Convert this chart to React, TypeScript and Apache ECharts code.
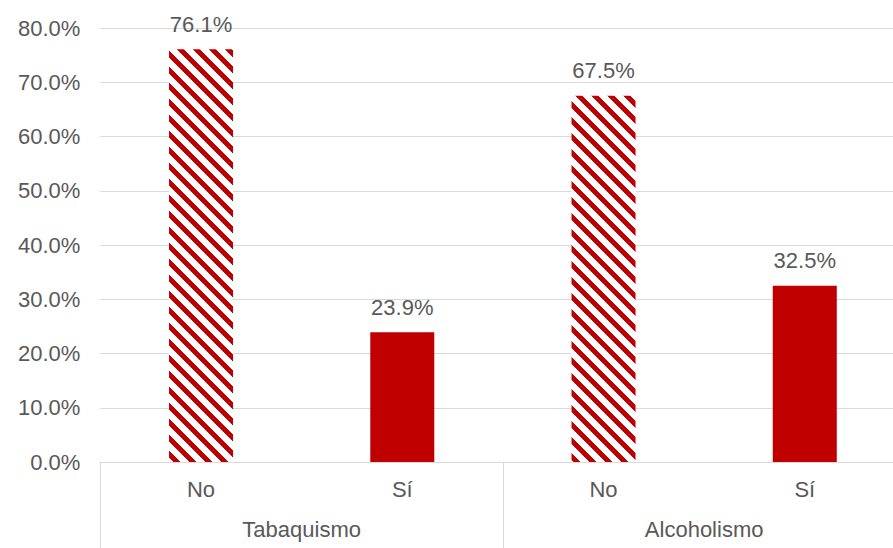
import React, { useEffect, useRef } from "react";
import * as echarts from "echarts";

const categories = ["No", "Sí", "No", "Sí"];
const groups = ["Tabaquismo", "Alcoholismo"];
const values = [76.1, 23.9, 67.5, 32.5];
const striped = [true, false, true, false];
const yTicks = { min: 0, max: 80, interval: 10 };

const RED = "#C00000";
const TEXT = "#595959";
const GRID = "#D9D9D9";
const FONT = "'Liberation Sans', Arial, sans-serif";

function makeStripe(): HTMLCanvasElement {
  const size = 16;
  const c = document.createElement("canvas");
  c.width = size;
  c.height = size;
  const ctx = c.getContext("2d")!;
  ctx.fillStyle = "#FFFFFF";
  ctx.fillRect(0, 0, size, size);
  ctx.fillStyle = RED;
  for (let y = 0; y < size; y++) {
    for (let x = 0; x < size; x++) {
      const d = (((x - y) % size) + size) % size;
      if (d < 7) ctx.fillRect(x, y, 1, 1);
    }
  }
  return c;
}

export default function App() {
  const ref = useRef<HTMLDivElement>(null);
  useEffect(() => {
    document.body.style.margin = "0";
    document.body.style.overflow = "hidden";
    const chart = echarts.init(ref.current!, null, { renderer: "svg" });
    const stripe = makeStripe();
    const pattern: any = {
      image: stripe,
      repeat: "repeat",
      imageWidth: 16,
      imageHeight: 16,
    };
    chart.setOption({
      animation: false,
      backgroundColor: "#FFFFFF",
      grid: { left: 100.4, top: 28, right: 0.6, bottom: 86, containLabel: false },
      xAxis: [
        {
          type: "category",
          data: categories,
          position: "bottom",
          axisLine: { show: true, lineStyle: { color: GRID, width: 1 } },
          axisTick: { show: false },
          axisLabel: { color: TEXT, fontSize: 22, fontFamily: FONT, margin: 16 },
          splitLine: { show: false },
        },
        {
          type: "category",
          data: groups,
          position: "bottom",
          axisLine: { show: false },
          axisTick: { show: true, length: 90, lineStyle: { color: GRID, width: 1 } },
          axisLabel: { color: TEXT, fontSize: 22, fontFamily: FONT, margin: 56 },
          splitLine: { show: false },
        },
      ],
      yAxis: {
        type: "value",
        min: yTicks.min,
        max: yTicks.max,
        interval: yTicks.interval,
        axisLine: { show: false },
        axisTick: { show: false },
        axisLabel: {
          color: TEXT,
          fontSize: 22,
          fontFamily: FONT,
          margin: 20,
          formatter: (v: number) => v.toFixed(1) + "%",
        },
        splitLine: { show: true, lineStyle: { color: GRID, width: 1 } },
      },
      series: [
        {
          type: "bar",
          xAxisIndex: 0,
          barWidth: 64,
          data: values.map((v, i) => ({
            value: v,
            itemStyle: { color: striped[i] ? pattern : RED },
          })),
          label: {
            show: true,
            position: "top",
            distance: 14,
            color: TEXT,
            fontSize: 22,
            fontFamily: FONT,
            formatter: (p: any) => Number(p.value).toFixed(1) + "%",
          },
        },
      ],
    });
    return () => chart.dispose();
  }, []);
  return (
    <div style={{ width: 893, height: 548, overflow: "hidden" }}>
      <div ref={ref} style={{ width: 906, height: 548 }} />
    </div>
  );
}
